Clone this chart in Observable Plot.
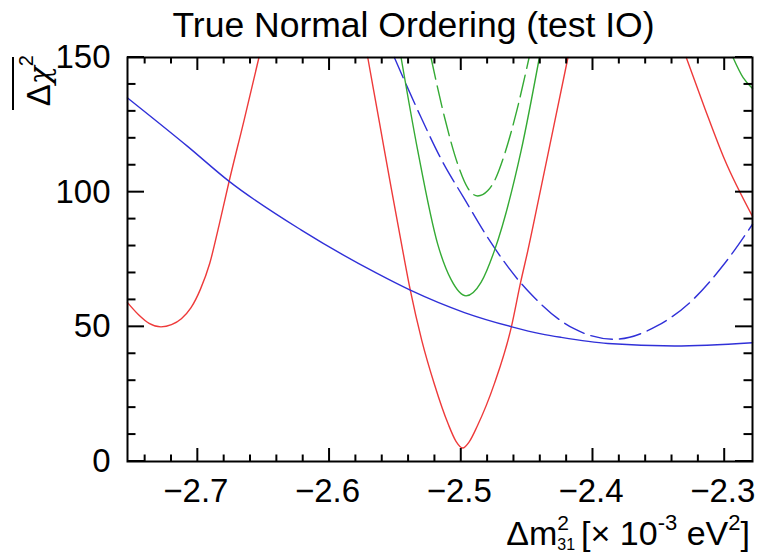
<!DOCTYPE html>
<html><head><meta charset="utf-8">
<script src="https://cdn.jsdelivr.net/npm/d3@7"></script>
<script src="https://cdn.jsdelivr.net/npm/@observablehq/plot@0.6"></script>
<style>html,body{margin:0;padding:0;background:#fff} svg{display:block}</style>
</head><body><div id="chart"></div>
<script>
// ---- data ----
const redLeftX  = [-2.7534, -2.745, -2.737, -2.728, -2.72, -2.7125, -2.7053, -2.698, -2.691, -2.684, -2.6765, -2.665, -2.6536];
const redLeftY  = [59, 54.5, 51.3, 50, 50.8, 53, 57, 64, 73.5, 87.5, 103.5, 126.5, 150];
const redMidX   = [-2.571, -2.562, -2.553, -2.5444, -2.5387, -2.530, -2.5204, -2.510, -2.504, -2.4989, -2.494, -2.488, -2.4748, -2.462, -2.455, -2.4495, -2.440, -2.430, -2.419];
const redMidY   = [150, 125.5, 101, 78.2, 63.6, 45, 28.7, 14, 7.5, 5, 7.3, 13, 29, 49.9, 66.4, 78.2, 100.4, 124, 150];
const redRightX = [-2.3292, -2.315, -2.300, -2.2789];
const redRightY = [150, 131, 112, 91];

const blueSolidX = [-2.7534, -2.7078, -2.6762, -2.6217, -2.5646, -2.5387, -2.4976, -2.4616, -2.4394, -2.4242, -2.3887, -2.3381, -2.2789];
const blueSolidY = [135, 117, 104, 86, 70, 63.6, 55.3, 50, 47.4, 46.1, 43.8, 42.9, 44.1];
const blueDashX  = [-2.5508, -2.5305, -2.5153, -2.4976, -2.4799, -2.455, -2.4444, -2.4242, -2.414, -2.3836, -2.3507, -2.3254, -2.3001, -2.2789];
const blueDashY  = [150, 127.7, 112.3, 97.5, 83.1, 66.4, 60.8, 52.2, 49.2, 45.4, 50.5, 59.5, 73.5, 88.1];

const greenSolidX  = [-2.5457, -2.533, -2.5179, -2.5077, -2.4964, -2.485, -2.4749, -2.4546, -2.4407];
const greenSolidY  = [150, 115.3, 80.7, 67.5, 61.5, 66.5, 78.2, 115.3, 150];
const greenRightX  = [-2.2937, -2.286, -2.2789];
const greenRightY  = [150, 142.5, 138.5];
const greenDashX   = [-2.523, -2.5128, -2.5027, -2.495, -2.4875, -2.480, -2.4748, -2.4672, -2.458, -2.4485];
const greenDashY   = [150, 128, 110.4, 101.5, 98.6, 100.5, 104.2, 114, 130, 150];

const xMajorTicks = [-2.7, -2.6, -2.5, -2.4, -2.3];
const xMinorTicks = [-2.74, -2.72, -2.68, -2.66, -2.64, -2.62, -2.58, -2.56, -2.54, -2.52, -2.48, -2.46, -2.44, -2.42, -2.38, -2.36, -2.34, -2.32];
const yMajorTicks = [0, 50, 100, 150];
const yMinorTicks = [10, 20, 30, 40, 60, 70, 80, 90, 110, 120, 130, 140];

const titleText = "True Normal Ordering (test IO)";

// ---- build rows ----
const rows = (xs, ys, seg) => xs.map((x, i) => ({x, y: ys[i], seg}));
const redRows = [...rows(redLeftX, redLeftY, "a"), ...rows(redMidX, redMidY, "b"), ...rows(redRightX, redRightY, "c")];
const blueSolidRows = rows(blueSolidX, blueSolidY, "a");
const blueDashRows = rows(blueDashX, blueDashY, "a");
const greenSolidRows = [...rows(greenSolidX, greenSolidY, "a"), ...rows(greenRightX, greenRightY, "b")];
const greenDashRows = rows(greenDashX, greenDashY, "a");

const W = 761, Hh = 554;
const mT = 57, mB = 93, mL = 127, mR = 9;
const xDomain = [-2.7534, -2.2789], yDomain = [0, 150];

const RED = "#ee3a3a", BLUE = "#3030d8", GREEN = "#34aa34";
const lw = 1.4;
const lineOpts = {x: "x", y: "y", z: "seg", strokeWidth: lw, curve: "monotone-x"};

const plot = Plot.plot({
  width: W, height: Hh,
  marginTop: mT, marginBottom: mB, marginLeft: mL, marginRight: mR,
  style: {fontFamily: "'Liberation Sans', Arial, Helvetica, sans-serif", background: "#fff", color: "#000"},
  x: {domain: xDomain},
  y: {domain: yDomain},
  marks: [
    Plot.line(redRows, {...lineOpts, stroke: RED}),
    Plot.line(blueSolidRows, {...lineOpts, stroke: BLUE}),
    Plot.line(blueDashRows, {...lineOpts, stroke: BLUE, strokeDasharray: "22,7"}),
    Plot.line(greenSolidRows, {...lineOpts, stroke: GREEN}),
    Plot.line(greenDashRows, {...lineOpts, stroke: GREEN, strokeDasharray: "22,7"}),
    Plot.frame({stroke: "#000", strokeWidth: 2}),
    Plot.axisX({ticks: xMajorTicks, tickSize: 0, tickPadding: 17, fontSize: 33, dx: -2, label: null, tickFormat: d3.format(".1f")}),
    Plot.axisY({ticks: yMajorTicks, tickSize: 0, tickPadding: 17, fontSize: 33, label: null, tickFormat: d3.format("d")})
  ]
});

const svg = d3.select(plot);
const ff = "'Liberation Sans', Arial, Helvetica, sans-serif";

// inward ticks on all four sides, positioned through Plot's own scales
const sx = plot.scale("x"), sy = plot.scale("y");
const fx0 = sx.apply(xDomain[0]), fx1 = sx.apply(xDomain[1]);
const fy0 = sy.apply(yDomain[0]), fy1 = sy.apply(yDomain[1]);
const tg = svg.append("g").attr("stroke", "#000").attr("stroke-width", 2).attr("fill", "none");
const addX = (vals, len) => vals.forEach(v => {
  const px = sx.apply(v);
  tg.append("line").attr("x1", px).attr("x2", px).attr("y1", fy0).attr("y2", fy0 - len);
  tg.append("line").attr("x1", px).attr("x2", px).attr("y1", fy1).attr("y2", fy1 + len);
});
const addY = (vals, len) => vals.forEach(v => {
  const py = sy.apply(v);
  tg.append("line").attr("y1", py).attr("y2", py).attr("x1", fx0).attr("x2", fx0 + len);
  tg.append("line").attr("y1", py).attr("y2", py).attr("x1", fx1).attr("x2", fx1 - len);
});
addX(xMajorTicks, 13); addX(xMinorTicks, 6.5);
addY(yMajorTicks, 17); addY(yMinorTicks, 8.5);

// title
svg.append("text")
  .attr("x", 413.5).attr("y", 36.5)
  .attr("text-anchor", "middle")
  .attr("font-family", ff).attr("font-size", 35.5).attr("fill", "#000")
  .text(titleText);

// x-axis title: Δm²₃₁ [× 10⁻³ eV²]
const xt = svg.append("text")
  .attr("x", 750).attr("y", 545)
  .attr("text-anchor", "end")
  .attr("font-family", ff).attr("font-size", 34).attr("fill", "#000");
xt.append("tspan").text("Δm");
xt.append("tspan").attr("font-size", 21).attr("dy", -15).text("2");
xt.append("tspan").attr("font-size", 16).attr("dx", -11.7).attr("dy", 20).text("31");
xt.append("tspan").attr("dy", -5).attr("dx", 6).text("[× 10");
xt.append("tspan").attr("font-size", 22).attr("dy", -15).text("-3");
xt.append("tspan").attr("dy", 15).text(" eV");
xt.append("tspan").attr("font-size", 22).attr("dy", -15).text("2");
xt.append("tspan").attr("dy", 15).text("]");

// y-axis title: overline Δχ²
const yt = svg.append("text")
  .attr("transform", "translate(50,55) rotate(-90)")
  .attr("text-anchor", "end")
  .attr("font-family", ff).attr("font-size", 33).attr("fill", "#000");
yt.append("tspan").text("Δ");
yt.append("tspan").attr("font-family", "'DejaVu Serif', serif").attr("font-style", "italic").attr("font-size", 30).text("χ");
yt.append("tspan").attr("font-size", 20).attr("dy", -17).text("2");
svg.append("line")
  .attr("x1", 13).attr("x2", 13).attr("y1", 57).attr("y2", 110)
  .attr("stroke", "#000").attr("stroke-width", 2);

document.getElementById("chart").appendChild(plot);
</script>
</body></html>
